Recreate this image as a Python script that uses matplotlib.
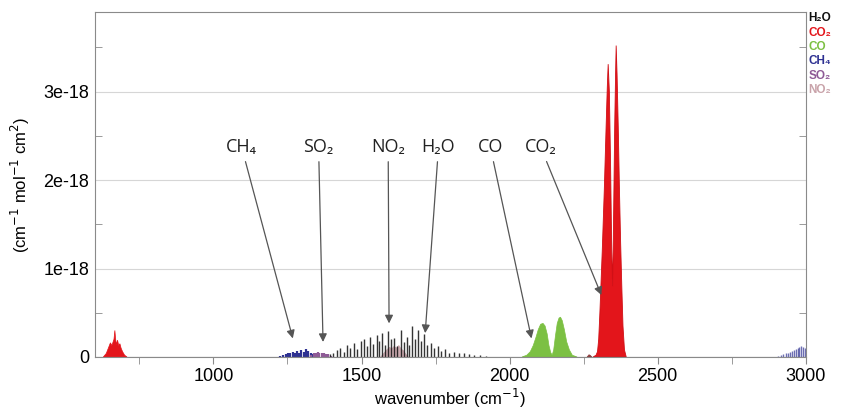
import numpy as np
import matplotlib
matplotlib.use("Agg")
import matplotlib.pyplot as plt
from matplotlib.ticker import MultipleLocator

plt.rcParams['font.family'] = ['Liberation Sans', 'DejaVu Sans']

S = 1e-18  # unita' dell'asse y

# CO2 banda principale (inviluppo: numero d'onda, intensita' in 1e-18)
co2_main_x = [2282, 2292, 2297, 2301, 2305, 2309, 2313, 2320, 2326, 2330, 2333, 2337, 2341, 2345, 2348,
              2351, 2355, 2358, 2360, 2363, 2367, 2371, 2375, 2379, 2383, 2388, 2394]
co2_main_y = [0.0, 0.02, 0.06, 0.2, 0.5, 0.85, 1.2, 1.9, 2.6, 3.05, 3.31, 3.0, 2.2, 1.2, 0.8,
              1.5, 2.6, 3.2, 3.52, 3.2, 2.6, 1.9, 1.3, 0.8, 0.35, 0.08, 0.0]
co2_bump_x = [2262, 2268, 2272, 2278]
co2_bump_y = [0.0, 0.025, 0.02, 0.0]

# CO2 banda a 667
co2_low_x = [628, 638, 645, 652, 657, 661, 664, 667, 669, 672, 676, 680, 684, 688, 693, 700, 708]
co2_low_y = [0.0, 0.04, 0.1, 0.16, 0.13, 0.17, 0.2, 0.3, 0.22, 0.14, 0.19, 0.13, 0.15, 0.1, 0.06, 0.02, 0.0]

# CO
co_x = [2042, 2058, 2070, 2080, 2089, 2097, 2105, 2113, 2120, 2127, 2133, 2139, 2144, 2149,
        2155, 2161, 2167, 2172, 2178, 2185, 2193, 2202, 2212, 2228]
co_y = [0.0, 0.02, 0.06, 0.13, 0.22, 0.31, 0.37, 0.38, 0.35, 0.26, 0.13, 0.05, 0.02, 0.08,
        0.24, 0.38, 0.44, 0.45, 0.41, 0.31, 0.17, 0.08, 0.02, 0.0]

# H2O righe
h2o_x = [1395, 1405, 1418, 1428, 1440, 1452, 1462, 1475, 1485, 1497, 1508, 1518, 1530, 1540, 1551,
         1560, 1570, 1580, 1590, 1600, 1611, 1621, 1632, 1642, 1652, 1662, 1672, 1682, 1692, 1702,
         1712, 1722, 1733, 1745, 1757, 1770, 1783, 1797, 1812, 1828, 1845, 1862, 1880, 1900, 1922]
h2o_y = [0.03, 0.05, 0.08, 0.1, 0.06, 0.13, 0.1, 0.16, 0.09, 0.18, 0.2, 0.12, 0.23, 0.15, 0.25,
         0.18, 0.27, 0.13, 0.29, 0.2, 0.22, 0.12, 0.3, 0.17, 0.23, 0.14, 0.35, 0.2, 0.3, 0.18,
         0.26, 0.13, 0.16, 0.1, 0.12, 0.07, 0.09, 0.05, 0.06, 0.04, 0.04, 0.03, 0.02, 0.02, 0.01]

# CH4 (banda 1300 e banda 3000)
ch4_x = [1225, 1235, 1245, 1252, 1260, 1268, 1275, 1282, 1290, 1297, 1305, 1312, 1320, 1328, 1335]
ch4_y = [0.01, 0.02, 0.03, 0.05, 0.04, 0.06, 0.05, 0.07, 0.05, 0.08, 0.06, 0.09, 0.07, 0.05, 0.03]
ch4b_x = [2905, 2915, 2925, 2933, 2941, 2948, 2955, 2961, 2967, 2973, 2979, 2985, 2991, 2997]
ch4b_y = [0.01, 0.02, 0.03, 0.04, 0.05, 0.06, 0.07, 0.08, 0.09, 0.1, 0.11, 0.12, 0.11, 0.1]

# SO2
so2_x = [1330, 1338, 1345, 1352, 1358, 1365, 1372, 1380, 1388, 1396]
so2_y = [0.02, 0.05, 0.04, 0.06, 0.05, 0.04, 0.05, 0.03, 0.03, 0.01]

# NO2 (inviluppo)
no2_x = [1565, 1575, 1585, 1595, 1602, 1610, 1618, 1626, 1634, 1642, 1650, 1658]
no2_y = [0.0, 0.04, 0.08, 0.11, 0.09, 0.12, 0.1, 0.13, 0.09, 0.07, 0.03, 0.0]

# etichette e punte delle frecce (numero d'onda, intensita')
ann_labels = ['CH\u2084', 'SO\u2082', 'NO\u2082', 'H\u2082O', 'CO', 'CO\u2082']
ann_text_x = [1095, 1355, 1590, 1760, 1935, 2105]
ann_tip_x = [1268, 1370, 1593, 1715, 2074, 2310]
ann_tip_y = [0.21, 0.17, 0.38, 0.27, 0.21, 0.70]

legend_names = ['H\u2082O', 'CO\u2082', 'CO', 'CH\u2084', 'SO\u2082', 'NO\u2082']
legend_colors = ['#111111', '#e3151b', '#7cc043', '#2e3192', '#8e5a96', '#c9a3aa']

C_H2O, C_CO2, C_CO, C_CH4, C_SO2, C_NO2 = legend_colors

fig = plt.figure(figsize=(8.41, 4.12), dpi=100)
ax = fig.add_axes([0.113, 0.1335, 0.845, 0.8375])

A = np.array
ax.fill(A(co2_low_x), A(co2_low_y) * S, color=C_CO2, lw=0.5)
ax.fill(A(co_x), A(co_y) * S, color=C_CO, lw=0.5)
ax.fill(A(co2_bump_x), A(co2_bump_y) * S, color='#8a3a3a', lw=0.5)
ax.fill(A(co2_main_x), A(co2_main_y) * S, color=C_CO2, ec='#d01016', lw=0.6)
ax.fill(A(no2_x), A(no2_y) * S, color=C_NO2, lw=0.5, alpha=0.9)

ax.vlines(ch4_x, 0, A(ch4_y) * S, color=C_CH4, lw=1.6)
ax.vlines(ch4b_x, 0, A(ch4b_y) * S, color=C_CH4, lw=1.0, alpha=0.7)
ax.vlines(so2_x, 0, A(so2_y) * S, color=C_SO2, lw=1.6)
ax.vlines(h2o_x, 0, A(h2o_y) * S, color=C_H2O, lw=1.0, alpha=0.85)
ax.plot([600, 3000], [0, 0], color='#888888', lw=0.8)

ax.set_xlim(600, 3000)
ax.set_ylim(0, 3.9e-18)
ax.set_xticks([1000, 1500, 2000, 2500, 3000])
ax.xaxis.set_minor_locator(MultipleLocator(250))
ax.set_yticks([0, 1e-18, 2e-18, 3e-18])
ax.set_yticklabels(['0', '1e-18', '2e-18', '3e-18'])
ax.yaxis.set_minor_locator(MultipleLocator(0.5e-18))
ax.yaxis.grid(True, color='#d6d6d6', lw=0.8)
ax.set_axisbelow(True)

for sp in ax.spines.values():
    sp.set_color('#8a8a8a')
ax.tick_params(axis='x', which='both', direction='out', length=5, color='#8a8a8a', labelsize=13, pad=3)
ax.tick_params(axis='y', which='major', length=0, labelsize=13, pad=4)
ax.tick_params(axis='y', which='minor', direction='in', length=5, color='#8a8a8a', right=True)

ax.set_xlabel('wavenumber (cm$^{-1}$)', fontsize=12, labelpad=1)
ax.set_ylabel('(cm$^{-1}$ mol$^{-1}$ cm$^{2}$)', fontsize=12, labelpad=8)

for lab, tx, px, py in zip(ann_labels, ann_text_x, ann_tip_x, ann_tip_y):
    ax.annotate(lab, xy=(px, py * S), xytext=(tx, 2.27e-18),
                ha='center', va='bottom', fontsize=13, family=['Open Sans', 'DejaVu Sans'],
                color='#222222',
                arrowprops=dict(arrowstyle='-|>', color='#555555', lw=0.9,
                                mutation_scale=12, shrinkA=2, shrinkB=0))

# legenda a destra, fuori dagli assi
for i, (name, col) in enumerate(zip(legend_names, legend_colors)):
    fig.text(0.961, 0.956 - i * 0.035, name, color=col, fontsize=8.5, va='center', ha='left',
             fontweight='bold')

fig.savefig('out.png', dpi=100)
